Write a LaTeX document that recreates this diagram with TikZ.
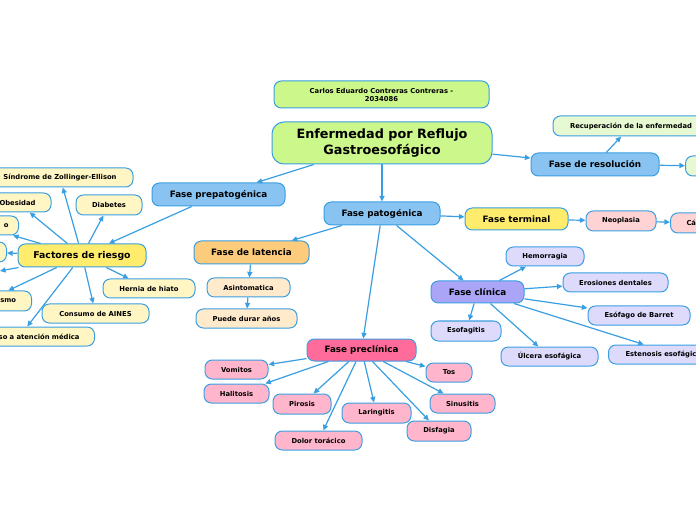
\documentclass[tikz,border=0pt]{standalone}
\usepackage{fontspec}
\setmainfont{DejaVu Sans}
\usetikzlibrary{arrows.meta}
\definecolor{lineblue}{HTML}{3A9FE2}
\definecolor{cgreen}{HTML}{CCF78A}
\definecolor{cgreenl}{HTML}{E6F9D2}
\definecolor{cblue}{HTML}{88C3F1}
\definecolor{cyellow}{HTML}{FFEC6C}
\definecolor{cyellowl}{HTML}{FFF6C4}
\definecolor{corange}{HTML}{FCCB7C}
\definecolor{cpeach}{HTML}{FFEACB}
\definecolor{cpurple}{HTML}{AAA5F7}
\definecolor{clav}{HTML}{DDDAFC}
\definecolor{cpink}{HTML}{FF6B9B}
\definecolor{cpinkl}{HTML}{FFB6CD}
\definecolor{crose}{HTML}{FFD3D3}
\tikzset{
  box/.style={draw=lineblue, line width=0.75pt, rounded corners=5.5pt, inner sep=0pt, align=center, font=\bfseries},
  sz/.style 2 args={minimum width=#1*0.75pt, minimum height=#2*0.75pt},
  small/.style={box, font=\bfseries\fontsize{5.1pt}{6pt}\selectfont},
  mid/.style={box, font=\bfseries\fontsize{6.6pt}{8pt}\selectfont},
  big/.style={box, font=\bfseries\fontsize{9.6pt}{11.4pt}\selectfont},
  conn/.style={draw=lineblue, line width=0.9pt, -{Triangle[length=4.2pt,width=3.8pt]}},
}
\begin{document}
\begin{tikzpicture}[x=0.75pt,y=-0.75pt]
\useasboundingbox (0,0) rectangle (696,520);
\clip (0,0) rectangle (696,520);
\fill[white] (0,0) rectangle (696,520);

% top
\node[small, fill=cgreen, sz={215}{27}] (title) at (381.5,94.5) {Carlos Eduardo Contreras Contreras -\\2034086};
\node[big, fill=cgreen, sz={220}{42}, rounded corners=9pt] (main) at (382,143) {Enfermedad por Reflujo\\Gastroesofágico};

% level 1
\node[mid, fill=cblue, sz={133}{23}] (prepat) at (218.5,194.5) {Fase prepatogénica};
\node[mid, fill=cblue, sz={116}{23}] (pat) at (382,213.5) {Fase patogénica};
\node[mid, fill=cblue, sz={128}{23}] (resol) at (595,164.5) {Fase de resolución};

% resolution
\node[small, fill=cgreenl, sz={156}{20}] (recup) at (631,126) {Recuperación de la enfermedad};
\node[small, fill=cgreenl, sz={60}{20}, anchor=west] (greenr) at (685,166) {};

% terminal
\node[mid, fill=cyellow, sz={103}{22}] (term) at (516.5,219) {Fase terminal};
\node[small, fill=crose, sz={70}{20}] (neo) at (621,221) {Neoplasia};
\node[small, fill=crose, sz={62}{20}, anchor=west, align=left, text width=30pt, inner xsep=12pt] (cancer) at (670,223) {Cá};

% risk factors
\node[mid, fill=cyellow, sz={128}{23}, font=\bfseries\fontsize{7pt}{8pt}\selectfont] (fact) at (82,255.5) {Factores de riesgo};
\node[small, fill=cyellowl, sz={146}{19}] (zoll) at (60,177.5) {Síndrome de Zollinger-Ellison};
\node[small, fill=cyellowl, sz={67}{19}] (obes) at (17.5,202.5) {Obesidad};
\node[small, fill=cyellowl, sz={66}{20}] (diab) at (109,205) {Diabetes};
\node[small, fill=cyellowl, sz={80}{19}, anchor=east, align=right, text width=45pt, inner xsep=7.5pt] (rfo) at (19,225.5) {o};
\node[small, fill=cyellowl, sz={60}{20}, anchor=east] (rfe) at (7,252) {};
\coordinate (rfc) at (0,271);
\node[small, fill=cyellowl, sz={80}{20}, anchor=east, align=right, text width=45pt, inner xsep=11.5pt] (rfs) at (32,301) {smo};
\node[small, fill=cyellowl, sz={92}{19}] (hern) at (149,288.5) {Hernia de hiato};
\node[small, fill=cyellowl, sz={107}{19}] (aines) at (95.5,313.5) {Consumo de AINES};
\node[small, fill=cyellowl, sz={150}{19}, anchor=east, align=right, text width=90pt, inner xsep=11.25pt] (rfa) at (95,336.5) {so a atención médica};

% latency
\node[mid, fill=corange, sz={115}{23}] (lat) at (251.5,252.5) {Fase de latencia};
\node[small, fill=cpeach, sz={83}{19}] (asin) at (248.5,287.5) {Asintomatica};
\node[small, fill=cpeach, sz={101}{19}] (puede) at (246.5,318.5) {Puede durar años};

% clinical
\node[mid, fill=cpurple, sz={93}{22}] (clin) at (477.5,292) {Fase clínica};
\node[small, fill=clav, sz={78}{19}] (hemo) at (545,256.5) {Hemorragia};
\node[small, fill=clav, sz={105}{19}] (eros) at (615.5,282.5) {Erosiones dentales};
\node[small, fill=clav, sz={102}{19}] (barret) at (639,315.5) {Esófago de Barret};
\node[small, fill=clav, sz={70}{20}] (esof) at (466,331) {Esofagitis};
\node[small, fill=clav, sz={97}{19}] (ulc) at (549.5,356.5) {Úlcera esofágica};
\node[small, fill=clav, sz={124}{19}, anchor=west, align=left, text width=75pt, inner xsep=12.75pt] (esten) at (608,354.5) {Estenosis esofágic};

% preclinical
\node[mid, fill=cpink, sz={109}{22}] (precl) at (361.5,350) {Fase preclínica};
\node[small, fill=cpinkl, sz={63}{19}] (vom) at (236.5,369.5) {Vomitos};
\node[small, fill=cpinkl, sz={65}{19}] (hali) at (236.5,393.5) {Halitosis};
\node[small, fill=cpinkl, sz={58}{20}] (piro) at (302,404) {Pirosis};
\node[small, fill=cpinkl, sz={87}{19}] (dolor) at (318.5,440.5) {Dolor torácico};
\node[small, fill=cpinkl, sz={69}{20}] (lar) at (376.5,413) {Laringitis};
\node[small, fill=cpinkl, sz={64}{20}] (disf) at (439,431) {Disfagia};
\node[small, fill=cpinkl, sz={46}{19}] (tos) at (449,372.5) {Tos};
\node[small, fill=cpinkl, sz={65}{19}] (sinus) at (462.5,403.5) {Sinusitis};

% connectors
\draw[conn] (main) -- (prepat);
\draw[conn] (main) -- (pat);
\draw[conn] (main) -- (resol);
\draw[conn] (resol) -- (recup);
\draw[conn] (resol) -- (greenr);
\draw[conn] (prepat) -- (fact);
\draw[conn] (fact) -- (zoll);
\draw[conn] (fact) -- (obes);
\draw[conn] (fact) -- (diab);
\draw[conn] (fact) -- (rfo);
\draw[conn] (fact) -- (rfe);
\draw[conn] (fact) -- (rfc);
\draw[conn] (fact) -- (rfs);
\draw[conn] (fact) -- (hern);
\draw[conn] (fact) -- (aines);
\draw[conn] (fact) -- (rfa);
\draw[conn] (pat) -- (term);
\draw[conn] (term) -- (neo);
\draw[conn] (neo) -- (cancer);
\draw[conn] (pat) -- (lat);
\draw[conn] (lat) -- (asin);
\draw[conn] (asin) -- (puede);
\draw[conn] (pat) -- (clin);
\draw[conn] (pat) -- (precl);
\draw[conn] (clin) -- (hemo);
\draw[conn] (clin) -- (eros);
\draw[conn] (clin) -- (barret);
\draw[conn] (clin) -- (esof);
\draw[conn] (clin) -- (ulc);
\draw[conn] (clin) -- (esten);
\draw[conn] (precl) -- (vom);
\draw[conn] (precl) -- (hali);
\draw[conn] (precl) -- (piro);
\draw[conn] (precl) -- (dolor);
\draw[conn] (precl) -- (lar);
\draw[conn] (precl) -- (disf);
\draw[conn] (precl) -- (tos);
\draw[conn] (precl) -- (sinus);
\end{tikzpicture}
\end{document}
